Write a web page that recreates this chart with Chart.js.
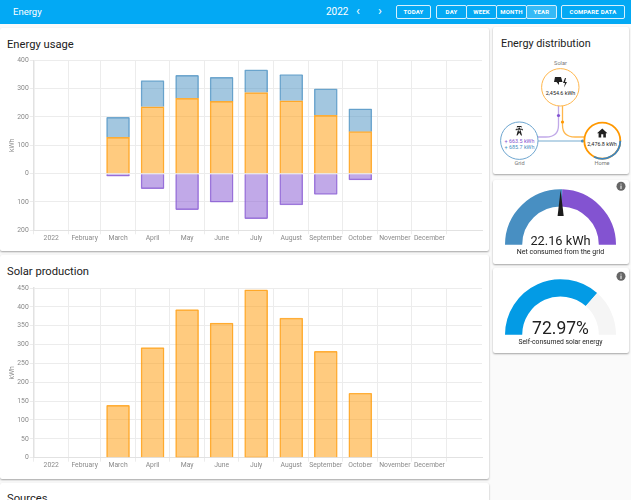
<!DOCTYPE html>
<html>
<head>
<meta charset="utf-8">
<title>Energy</title>
<script src="https://cdn.jsdelivr.net/npm/chart.js@4/dist/chart.umd.min.js"></script>
<style>
    html, body { margin: 0; height: 100%; overflow: hidden; background: #fafafa; font-family: Roboto, sans-serif; color: #212121; }
    .box { position: absolute; }
    .card { position: absolute; background: #fff; box-shadow: 0 1px 2px rgba(0,0,0,.35); border-radius: 2px; }
    .header { left: 0; top: 0; width: 631px; height: 24px; background: #03a9f4; color: #fff; }
    .txt { position: absolute; white-space: nowrap; line-height: 1; }
    .btn { position: absolute; top: 5px; height: 14px; border: 1px solid #d5f0fd; border-radius: 2px; box-sizing: border-box; color: #fff;
           font-size: 6px; font-weight: 700; letter-spacing: .2px; line-height: 12px; text-align: center; }
    .title { font-size: 11.2px; left: 7px; }
    .center { transform: translateX(-50%); text-align: center; }
    canvas { position: absolute; }
</style>
</head>
<body>

<div class="box header">
    <div class="txt" style="left:13px;top:7px;font-size:9.5px;">Energy</div>
    <div class="txt" style="left:326px;top:6.5px;font-size:10px;">2022</div>
    <div class="txt" style="left:356px;top:4px;font-size:13px;">‹</div>
    <div class="txt" style="left:378px;top:4px;font-size:13px;">›</div>
    <div class="btn" style="left:396px;width:35px;">TODAY</div>
    <div class="btn" style="left:436px;width:31px;">DAY</div>
    <div class="btn" style="left:466px;width:31px;">WEEK</div>
    <div class="btn" style="left:496px;width:31px;">MONTH</div>
    <div class="btn" style="left:526px;width:31px;background:rgba(255,255,255,.2);">YEAR</div>
    <div class="btn" style="left:561px;width:64px;">COMPARE DATA</div>
</div>

<!-- tarjetas de la izquierda -->
<div class="card" style="left:0;top:28px;width:489px;height:223px;"></div>
<div class="card" style="left:0;top:255px;width:489px;height:224px;"></div>
<div class="card" style="left:0;top:483px;width:489px;height:40px;"></div>
<div class="txt title" style="top:39px;">Energy usage</div>
<div class="txt title" style="top:266px;">Solar production</div>
<div class="txt title" style="top:493px;">Sources</div>
<canvas id="usageChart" style="left:0;top:50px;"></canvas>
<canvas id="solarChart" style="left:0;top:278px;"></canvas>

<!-- tarjetas de la derecha -->
<div class="card" style="left:493px;top:27px;width:136px;height:147px;"></div>
<div class="card" style="left:493px;top:180px;width:136px;height:84px;"></div>
<div class="card" style="left:493px;top:268px;width:136px;height:85px;"></div>
<div class="txt" style="left:501px;top:39px;font-size:10.8px;">Energy distribution</div>

<svg class="box" style="left:490px;top:25px;" width="141" height="150" viewBox="0 0 141 150">
    <path d="M68.5 81 V100 Q68.5 112 56 112 H48" fill="none" stroke="#8353d1" stroke-opacity=".5" stroke-width="1.3"/>
    <path d="M72.5 81 V100 Q72.5 112 85 112 H94" fill="none" stroke="#ff9800" stroke-opacity=".7" stroke-width="1.3"/>
    <path d="M48 116 H94" fill="none" stroke="#488fc2" stroke-opacity=".5" stroke-width="1.6"/>
    <circle cx="68.5" cy="90.5" r="1.6" fill="#8353d1"/>
    <circle cx="72.5" cy="97" r="1.6" fill="#ff9800"/>
    <circle cx="92.5" cy="116" r="1.6" fill="#488fc2"/>
    <circle cx="70.3" cy="62.3" r="18.7" fill="#fff" stroke="#ffb74d" stroke-width="1"/>
    <circle cx="29.3" cy="115.7" r="18.7" fill="#fff" stroke="#6ea6d0" stroke-width="1"/>
    <circle cx="112.3" cy="115.7" r="18" fill="#fff" stroke="#ff9800" stroke-width="1.8"/>
    <path d="M130.3 115.7 A18 18 0 0 1 104 131.7" fill="none" stroke="#3d85c0" stroke-width="1.8"/>
    <path d="M65 52 h6 l1.5 5 h-3.5 v3 l-2.5 -3 h-2.5 z M75 53 l-2 5 h2 l-1 4.5 l3 -5.5 h-2 l1 -4 z" fill="#212121"/>
    <g transform="translate(23.5 100) scale(.48)" fill="#212121">
        <path d="M8.28,5.45L6.5,4.55L7.76,2H16.23L17.5,4.55L15.72,5.44L15,4H9L8.28,5.45M18.62,8H14.09L13.3,5H10.7L9.91,8H5.38L4.1,10.55L5.89,11.44L6.62,10H17.38L18.1,11.45L19.89,10.56L18.62,8M17.77,22H15.7L15.46,21.1L12,15.9L8.53,21.1L8.3,22H6.23L9.12,11H11.19L10.83,12.35L12,14.1L13.16,12.35L12.81,11H14.88L17.77,22Z"/>
    </g>
    <g transform="translate(106 102) scale(.52)" fill="#212121">
        <path d="M10,20V14H14V20H19V12H22L12,3L2,12H5V20H10Z"/>
    </g>
</svg>
<div class="txt center" style="left:560.5px;top:61px;font-size:5.6px;color:#777;">Solar</div>
<div class="txt center" style="left:560.5px;top:91px;font-size:5.4px;">2,454.6 kWh</div>
<div class="txt center" style="left:519.5px;top:138.5px;font-size:5.4px;color:#8353d1;">+ 663.5 kWh</div>
<div class="txt center" style="left:519.5px;top:145px;font-size:5.4px;color:#488fc2;">+ 685.7 kWh</div>
<div class="txt center" style="left:519.5px;top:160.5px;font-size:5.6px;color:#777;">Grid</div>
<div class="txt center" style="left:602px;top:142px;font-size:5.4px;">2,476.8 kWh</div>
<div class="txt center" style="left:602px;top:160.5px;font-size:5.6px;color:#777;">Home</div>

<!-- medidores -->
<canvas id="gridGauge" style="left:505px;top:189px;"></canvas>
<canvas id="selfGauge" style="left:505px;top:279px;"></canvas>
<svg class="box" style="left:550px;top:185px;" width="22" height="40" viewBox="0 0 22 40">
    <path d="M10.6 5 L13.7 31 H7.6 Z" fill="#1c1c1c"/>
</svg>
<div class="txt center" style="left:560.5px;top:235px;font-size:12.8px;">22.16 kWh</div>
<div class="txt center" style="left:560.5px;top:249px;font-size:7px;">Net consumed from the grid</div>
<div class="txt center" style="left:560.5px;top:320px;font-size:17.5px;">72.97%</div>
<div class="txt center" style="left:560.5px;top:339px;font-size:6.8px;">Self-consumed solar energy</div>
<svg class="box" style="left:615px;top:181px;" width="12" height="12"><circle cx="6" cy="5.3" r="4.5" fill="#666"/><path d="M6 4.5 V8 M6 2.7 V3.6" stroke="#fff" stroke-width="1"/></svg>
<svg class="box" style="left:615px;top:271px;" width="12" height="12"><circle cx="6" cy="5.3" r="4.5" fill="#666"/><path d="M6 4.5 V8 M6 2.7 V3.6" stroke="#fff" stroke-width="1"/></svg>

<script>
// ==================== DATOS ====================
const monthLabels = ['2022', 'February', 'March', 'April', 'May', 'June', 'July', 'August', 'September', 'October', 'November', 'December', ''];
const monthDays = [31, 28, 31, 30, 31, 30, 31, 31, 30, 31, 30, 31, 31];

// kWh por mes, null donde no hay barra
const solarToHome = [null, null, 128, 236, 266, 255, 286, 257, 206, 148, null, null];
const gridToHome = [null, null, 71, 92, 81, 85, 80, 93, 93, 81, null, null];
const solarToGrid = [null, null, -9, -53, -127, -101, -159, -110, -73, -22, null, null];
const solarProduction = [null, null, 139, 292, 393, 357, 445, 370, 282, 171, null, null];

const usageTicks = [-200, -100, 0, 100, 200, 300, 400];
const solarTicks = [0, 50, 100, 150, 200, 250, 300, 350, 400, 450];

const gridGaugeValues = [51, 49];
const selfGaugeValues = [72.97, 27.03];

// ==================== ESCALA DE TIEMPO ====================
// El eje es temporal: cada mes ocupa lo que sus días.
const monthStarts = [];
const monthMiddles = [];
let dayCount = 0;
monthDays.forEach(days => {
    monthStarts.push(dayCount);
    monthMiddles.push(dayCount + days / 2);
    dayCount += days;
});

const GRID = '#ececec';
const TEXT = '#8a8a8a';
const FONT = { family: 'Roboto', size: 6.8 };

function toPoints(values) {
    return values.map((y, i) => ({ x: monthMiddles[i], y }));
}

function barDataset(values, color, fill) {
    return {
        data: toPoints(values),
        backgroundColor: fill,
        borderColor: color,
        borderWidth: 0.8,
        borderRadius: 1,
        barThickness: 23,
        stack: 'energy'
    };
}

function drawBarChart(id, topPadding, xHeight, datasets, yTicks, yFormat) {
    new Chart(document.getElementById(id), {
        type: 'bar',
        data: { datasets },
        options: {
            responsive: false,
            animation: false,
            layout: { padding: { top: topPadding, right: 6, left: 0, bottom: 0 } },
            plugins: { legend: { display: false }, tooltip: { enabled: false } },
            scales: {
                x: {
                    type: 'linear',
                    stacked: true,
                    offset: false,
                    min: 0,
                    max: dayCount,
                    afterBuildTicks: scale => {
                        const starts = monthStarts.map(value => ({ value }));
                        const labels = monthMiddles.slice(0, 12).map(value => ({ value }));
                        scale.ticks = starts.concat(labels).sort((a, b) => a.value - b.value);
                    },
                    afterFit: scale => { scale.height = xHeight; },
                    border: { color: '#e2e2e2' },
                    grid: {
                        offset: false,
                        color: ctx => (ctx.tick && !monthStarts.includes(ctx.tick.value) ? 'transparent' : GRID),
                        tickLength: 4
                    },
                    ticks: {
                        autoSkip: false,
                        maxRotation: 0,
                        padding: 0,
                        color: TEXT,
                        font: FONT,
                        callback: value => {
                            const i = monthMiddles.indexOf(value);
                            return i >= 0 ? monthLabels[i] : '';
                        }
                    }
                },
                y: {
                    stacked: true,
                    min: yTicks[0],
                    max: yTicks[yTicks.length - 1],
                    afterBuildTicks: scale => { scale.ticks = yTicks.map(value => ({ value })); },
                    afterFit: scale => { scale.width = 33.7; },
                    border: { color: '#e2e2e2', width: 1.5 },
                    grid: { color: GRID, tickLength: 4 },
                    title: { display: true, text: 'kWh', color: TEXT, font: FONT, padding: { top: 8, bottom: 0 } },
                    ticks: { color: TEXT, font: FONT, padding: 1, callback: yFormat }
                }
            }
        }
    });
}

function drawGauge(id, values, colors) {
    new Chart(document.getElementById(id), {
        type: 'doughnut',
        data: { datasets: [{ data: values, backgroundColor: colors, borderWidth: 0 }] },
        options: {
            responsive: false,
            animation: false,
            rotation: -90,
            circumference: 180,
            cutout: '69%',
            plugins: { legend: { display: false }, tooltip: { enabled: false } }
        }
    });
}

// ==================== GRÁFICOS ====================
function setSize(id, width, height) {
    const canvas = document.getElementById(id);
    canvas.width = width;
    canvas.height = height;
}

setSize('usageChart', 488, 200);
setSize('solarChart', 488, 198);
setSize('gridGauge', 111, 56);
setSize('selfGauge', 111, 56);

drawBarChart('usageChart', 10.3, 19.7, [
    barDataset(solarToHome, 'rgba(255,152,0,.75)', 'rgba(255,152,0,.5)'),
    barDataset(gridToHome, 'rgba(72,143,194,.75)', 'rgba(72,143,194,.5)'),
    barDataset(solarToGrid, 'rgba(131,83,209,.75)', 'rgba(131,83,209,.5)')
], usageTicks, value => Math.abs(value));

drawBarChart('solarChart', 10, 18.3, [
    barDataset(solarProduction, 'rgba(255,152,0,.75)', 'rgba(255,152,0,.5)')
], solarTicks, value => value);

drawGauge('gridGauge', gridGaugeValues, ['#488fc2', '#8353d1']);
drawGauge('selfGauge', selfGaugeValues, ['#039be5', '#f5f5f5']);
</script>
</body>
</html>
